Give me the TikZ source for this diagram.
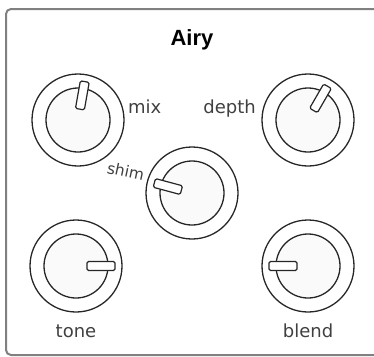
\documentclass[tikz,border=0pt]{standalone}
\usepackage{fontspec}
\setmainfont{DejaVu Sans}
\newfontfamily\titlefont{Liberation Sans}
\begin{document}
\begin{tikzpicture}[x=1pt,y=-1pt,
  ring/.style={draw=black!85, line width=1.3pt},
  knobface/.style={draw=black!85, line width=1.3pt, fill=black!2},
  ptr/.style={draw=black!85, line width=1.2pt, fill=white, rounded corners=1.5pt},
  lbl/.style={text=black!75, font=\fontsize{18}{18}\selectfont, inner sep=0pt}]
\useasboundingbox (0,0) rectangle (374,356);
\clip (0,0) rectangle (374,356);
\draw[black!50, line width=2pt, rounded corners=5pt] (6,9) rectangle (400,355);
\node[font=\titlefont\bfseries\fontsize{22}{22}\selectfont, inner sep=0pt] (title) at (192,40) {Airy};
% knobs: name, x, y, angle
\foreach \n/\cx/\cy/\a in {mix/78/120/80, depth/308/120/60, shim/192/193/165, tone/76/266/0, blend/308/266/180}{
  \coordinate (\n) at (\cx,\cy);
  \draw[ring] (\n) circle[radius=46];
  \draw[knobface] (\n) circle[radius=32];
  \begin{scope}[shift={(\n)}, rotate=\a]
    \draw[ptr] (11,-4.5) rectangle (39,4.5);
  \end{scope}
}
\node[lbl, anchor=base west] (lmix) at (128,113) {mix};
\node[lbl, anchor=base east] (ldepth) at (256,113) {depth};
\node[lbl, anchor=base east, rotate=-12, font=\fontsize{15.5}{16}\selectfont] (lshim) at (143,181) {shim};
\node[lbl, anchor=base] (ltone) at (76,337) {tone};
\node[lbl, anchor=base] (lblend) at (308,337) {blend};
\end{tikzpicture}
\end{document}
